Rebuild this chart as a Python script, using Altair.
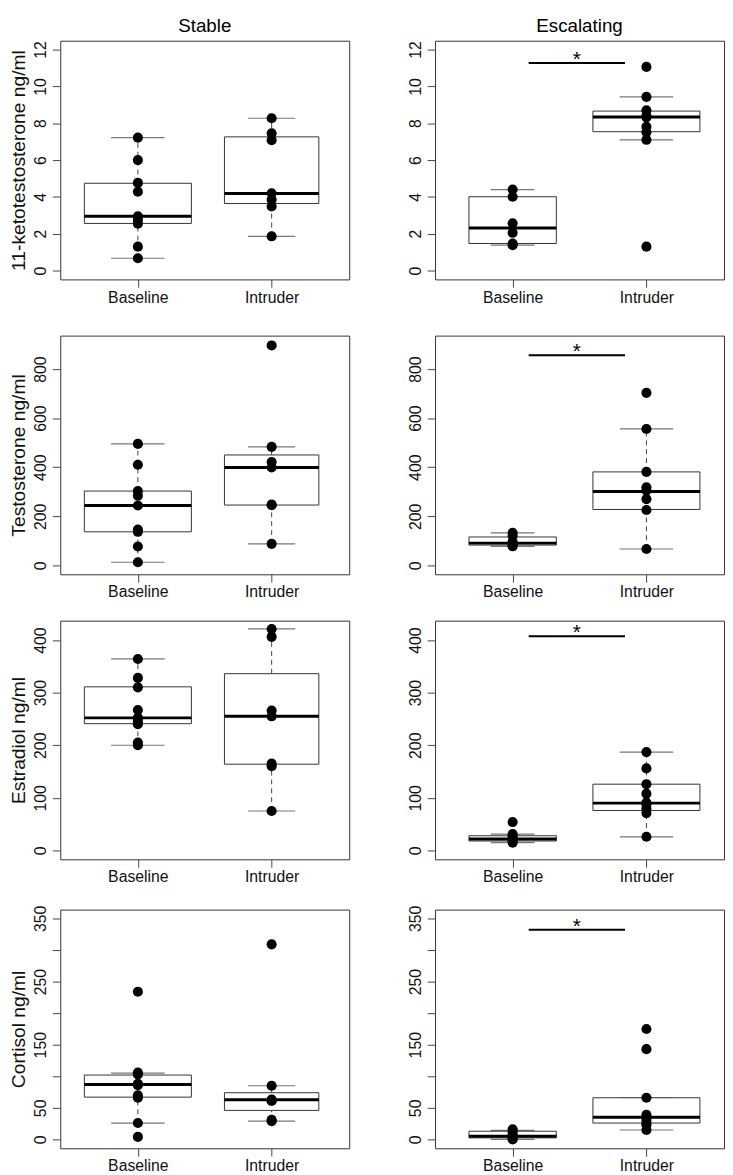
import altair as alt
import numpy as np
import pandas as pd

# ---------------- data ----------------
groups = ["Baseline", "Intruder"]
columns = ["Stable", "Escalating"]
hormones = ["11-ketotestosterone ng/ml", "Testosterone ng/ml", "Estradiol ng/ml", "Cortisol ng/ml"]

# sample sizes (box widths are proportional to sqrt(n), R varwidth)
n_stable = [9, 7]
n_escal = [6, 9]

# 11-ketotestosterone
kt_stable_base = [7.22, 6.0, 4.76, 4.28, 2.95, 2.75, 2.54, 1.30, 0.67]
kt_stable_intr = [8.27, 7.45, 7.08, 4.2, 3.85, 3.48, 1.86]
kt_escal_base = [4.40, 4.01, 2.57, 2.05, 1.47, 1.38]
kt_escal_intr = [11.06, 9.43, 8.70, 8.40, 8.32, 7.81, 7.51, 7.10, 1.30]
# box stats: [lower whisker, q1, median, q3, upper whisker]
kt_stable_base_box = [0.67, 2.56, 2.95, 4.74, 7.22]
kt_stable_intr_box = [1.86, 3.64, 4.19, 7.26, 8.27]
kt_escal_base_box = [1.38, 1.47, 2.31, 4.01, 4.40]
kt_escal_intr_box = [7.10, 7.54, 8.34, 8.66, 9.43]

# Testosterone
t_stable_base = [495, 410, 303, 284, 244, 146, 137, 77, 13]
t_stable_intr = [896, 483, 421, 399, 248, 245, 88]
t_escal_base = [133, 121, 97, 86, 83, 78]
t_escal_intr = [703, 556, 381, 318, 305, 270, 226, 67]
t_stable_base_box = [13, 137, 244, 303, 495]
t_stable_intr_box = [88, 246, 399, 450, 483]
t_escal_base_box = [78, 83, 91, 116, 133]
t_escal_intr_box = [67, 228, 301, 381, 556]

# Estradiol
e_stable_base = [364, 328, 310, 267, 252, 245, 240, 205, 200]
e_stable_intr = [421, 406, 266, 255, 165, 160, 75]
e_escal_base = [54, 31, 27, 22, 18, 15]
e_escal_intr = [187, 156, 126, 108, 91, 88, 80, 71, 26]
e_stable_base_box = [200, 241, 252, 311, 364]
e_stable_intr_box = [75, 164, 255, 336, 421]
e_escal_base_box = [15, 18, 22, 28, 31]
e_escal_intr_box = [26, 76, 90, 126, 187]

# Cortisol
f_stable_base = [234, 106, 103, 88, 86, 70, 66, 26, 4]
f_stable_intr = [309, 85, 63, 62, 61, 31, 29]
f_escal_base = [16, 12, 8, 5, 2, 0]
f_escal_intr = [175, 143, 66, 39, 35, 31, 26, 23, 15]
f_stable_base_box = [26, 67, 87, 102, 105]
f_stable_intr_box = [29, 46, 63, 74, 85]
f_escal_base_box = [0, 2.5, 5, 13, 14.5]
f_escal_intr_box = [15, 26, 35, 66, 66]

# significance bars (Escalating column only)
sig_y = [11.27, 856, 407, 332]
sig_x = [1.12, 1.84]
sig_label = "*"

# y axes
y_domains = [[-0.48, 12.48], [-36, 936], [-16.8, 436.8], [-14, 364]]
y_ticks = [[0, 2, 4, 6, 8, 10, 12],
           [0, 200, 400, 600, 800],
           [0, 100, 200, 300, 400],
           [0, 50, 100, 150, 200, 250, 300, 350]]
y_labels_shown = [[0, 2, 4, 6, 8, 10, 12],
                  [0, 200, 400, 600, 800],
                  [0, 100, 200, 300, 400],
                  [0, 50, 150, 250, 350]]

points = [
    [(kt_stable_base, kt_stable_intr), (kt_escal_base, kt_escal_intr)],
    [(t_stable_base, t_stable_intr), (t_escal_base, t_escal_intr)],
    [(e_stable_base, e_stable_intr), (e_escal_base, e_escal_intr)],
    [(f_stable_base, f_stable_intr), (f_escal_base, f_escal_intr)],
]
boxes = [
    [(kt_stable_base_box, kt_stable_intr_box), (kt_escal_base_box, kt_escal_intr_box)],
    [(t_stable_base_box, t_stable_intr_box), (t_escal_base_box, t_escal_intr_box)],
    [(e_stable_base_box, e_stable_intr_box), (e_escal_base_box, e_escal_intr_box)],
    [(f_stable_base_box, f_stable_intr_box), (f_escal_base_box, f_escal_intr_box)],
]
ns = [n_stable, n_escal]

# ---------------- styling ----------------
FONT = "Liberation Sans"
W, H = 293, 242
BOXWEX = 0.8
x_scale = alt.Scale(domain=[0.42, 2.58], nice=False, zero=False)
x_axis = alt.Axis(values=[1, 2], labelExpr="datum.value == 1 ? 'Baseline' : 'Intruder'",
                  tickSize=8, labelPadding=2, labelFontSize=16, domain=False, grid=False,
                  labelFlush=False, title=None)


def panel(r, c):
    b_box, i_box = boxes[r][c]
    b_pts, i_pts = points[r][c]
    n = np.array(ns[c], dtype=float)
    w = BOXWEX * np.sqrt(n / n.max())
    stats = np.array([b_box, i_box], dtype=float)
    xs = np.array([1.0, 2.0])
    bdf = pd.DataFrame({
        "g": groups, "x": xs,
        "lo": stats[:, 0], "q1": stats[:, 1], "med": stats[:, 2], "q3": stats[:, 3], "hi": stats[:, 4],
        "xl": xs - w / 2, "xr": xs + w / 2, "sl": xs - w / 4, "sr": xs + w / 4,
    })
    pdf = pd.DataFrame({"x": [1.0] * len(b_pts) + [2.0] * len(i_pts), "v": list(b_pts) + list(i_pts)})

    shown = y_labels_shown[r]
    y_axis = alt.Axis(values=y_ticks[r], grid=False, domain=False, tickSize=8, labelPadding=4,
                      labelAngle=270, labelAlign="center", labelBaseline="bottom", labelFontSize=16,
                      labelExpr="indexof(%s, datum.value) >= 0 ? datum.label : ''" % str(shown),
                      titleFontSize=19.5, titlePadding=4, titleFontWeight="normal", labelFlush=False,
                      labelOverlap=False)
    y_scale = alt.Scale(domain=y_domains[r], nice=False, zero=False)
    ytitle = hormones[r] if c == 0 else None

    def X(f):
        return alt.X(f, type="quantitative", scale=x_scale, axis=x_axis, title=None)

    def Y(f):
        return alt.Y(f, type="quantitative", scale=y_scale, axis=y_axis, title=ytitle)

    base = alt.Chart(bdf)
    wl_up = base.mark_rule(color="#444", strokeDash=[5, 4], strokeWidth=1).encode(
        x=X("x"), y=Y("q3"), y2="hi")
    wl_dn = base.mark_rule(color="#444", strokeDash=[5, 4], strokeWidth=1).encode(
        x=X("x"), y=Y("lo"), y2="q1")
    st_up = base.mark_rule(color="#777", strokeWidth=1.2).encode(x=X("sl"), x2="sr", y=Y("hi"))
    st_dn = base.mark_rule(color="#777", strokeWidth=1.2).encode(x=X("sl"), x2="sr", y=Y("lo"))
    box = base.mark_rect(fill="white", stroke="#333", strokeWidth=1).encode(
        x=X("xl"), x2="xr", y=Y("q1"), y2="q3")
    med = base.mark_rule(color="black", strokeWidth=3).encode(x=X("xl"), x2="xr", y=Y("med"))
    pts = alt.Chart(pdf).mark_circle(color="black", opacity=1, size=105).encode(x=X("x"), y=Y("v"))

    layers = [wl_up, wl_dn, st_up, st_dn, box, med, pts]
    if c == 1:
        sdf = pd.DataFrame({"x1": [sig_x[0]], "x2": [sig_x[1]], "xm": [sum(sig_x) / 2],
                            "y": [sig_y[r]], "t": [sig_label]})
        sig = alt.Chart(sdf).mark_rule(color="black", strokeWidth=2).encode(
            x=X("x1"), x2="x2", y=Y("y"))
        star = alt.Chart(sdf).mark_text(font=FONT, fontSize=21, baseline="alphabetic", dy=3,
                                        color="black").encode(x=X("xm"), y=Y("y"), text="t:N")
        layers += [sig, star]
    if r == 0:
        tdf = pd.DataFrame({"t": [columns[c]]})
        head = alt.Chart(tdf).mark_text(font=FONT, fontSize=19, baseline="top",
                                        color="black").encode(
            x=alt.value(W / 2), y=alt.value(-24), text="t:N")
        layers.append(head)
    return alt.layer(*layers).properties(width=W, height=H)


rows = [alt.hconcat(panel(r, 0), panel(r, 1), spacing=57) for r in range(4)]
chart = alt.vconcat(
    rows[0],
    alt.vconcat(rows[1], rows[2], rows[3], spacing=19),
    spacing=29,
).properties(padding=0).configure_view(
    stroke="#333", strokeWidth=1
).configure_axis(
    labelFont=FONT, titleFont=FONT, labelColor="#111", titleColor="#111",
    tickColor="#444", tickWidth=1
)

chart.save("out.html", embed_options={"renderer": "svg", "actions": False})
